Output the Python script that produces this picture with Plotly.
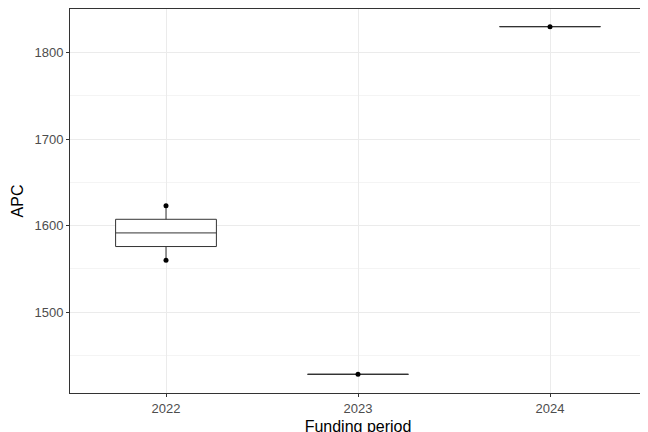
import plotly.graph_objects as go

periods = ["2022", "2023", "2024"]
apc_2022 = [1560, 1623]
apc_2023 = [1428]
apc_2024 = [1830]
q1 = [1575.75, 1428, 1830]
median = [1591.5, 1428, 1830]
q3 = [1607.25, 1428, 1830]
low = [1560, 1428, 1830]
high = [1623, 1428, 1830]

fig = go.Figure()
fig.add_trace(go.Box(x=periods, q1=q1, median=median, q3=q3, lowerfence=low, upperfence=high,
                     fillcolor="white", line=dict(color="#333333", width=1),
                     whiskerwidth=0, showlegend=False))
fig.add_trace(go.Scatter(x=periods, y=median, mode="lines", line=dict(width=0),
                         hoverinfo="skip", showlegend=False))
pts_x = ["2022"] * len(apc_2022) + ["2023"] * len(apc_2023) + ["2024"] * len(apc_2024)
pts_y = apc_2022 + apc_2023 + apc_2024
fig.add_trace(go.Scatter(x=pts_x, y=pts_y, mode="markers",
                         marker=dict(color="black", size=5), showlegend=False))

fig.update_layout(
    width=648, height=432, plot_bgcolor="white", paper_bgcolor="white",
    margin=dict(l=62, r=10, t=1, b=47), boxgap=0.25,
    font=dict(family="Liberation Sans, Arial", size=13, color="black"),
)
fig.update_xaxes(type="category", categoryorder="array", categoryarray=periods,
                 title=dict(text="Funding period", font=dict(size=16), standoff=6),
                 showgrid=True, gridcolor="#ebebeb", showline=True, mirror=True,
                 linecolor="#333333", linewidth=1, ticks="outside", ticklen=3,
                 tickcolor="#333333", tickfont=dict(color="#4d4d4d"))
fig.update_yaxes(range=[1406.4, 1850.4], tickvals=[1500, 1600, 1700, 1800],
                 title=dict(text="APC", font=dict(size=16), standoff=6),
                 showgrid=True, gridcolor="#ebebeb", zeroline=False,
                 minor=dict(showgrid=True, gridcolor="#f4f4f4", tickvals=[1450, 1550, 1650, 1750, 1850]),
                 showline=True, mirror=True, linecolor="#333333", linewidth=1,
                 ticks="outside", ticklen=3, tickcolor="#333333", tickfont=dict(color="#4d4d4d"))

fig.write_html("out.html")
